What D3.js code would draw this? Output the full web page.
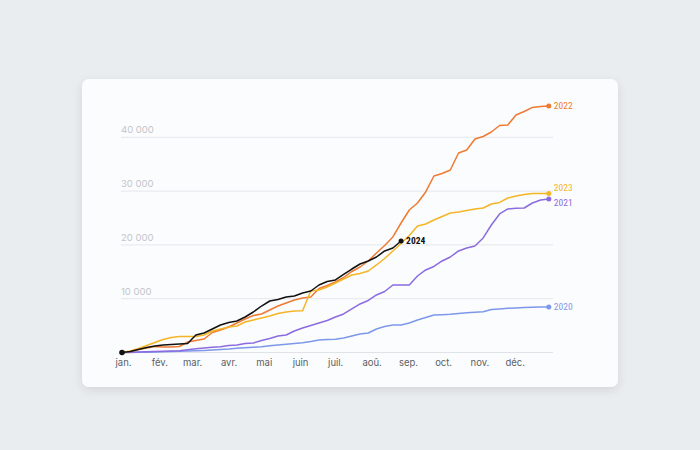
<!DOCTYPE html>
<html><head><meta charset="utf-8">
<script src="https://cdn.jsdelivr.net/npm/d3@7"></script>
<style>
html,body{margin:0;padding:0;background:#e9edf0;width:700px;height:450px;overflow:hidden;font-family:Inter,"Noto Sans",sans-serif;}
</style></head><body>
<svg id="chart" width="700" height="450"></svg>
<script>
const months = ["jan.","fév.","mar.","avr.","mai","juin","juil.","aoû.","sep.","oct.","nov.","déc."];
const monthStartDays = [0,31,59,90,120,151,181,212,243,273,304,334];
const yTicks = [10000,20000,30000,40000];
const years = ["2020","2021","2022","2023","2024"];
const colors = {"2020":"#7d98ea","2021":"#8a6ce0","2022":"#ef7a32","2023":"#f4b526","2024":"#111111"};

// weekly cumulative values (week 0 = 1 January)
const v2020 = [0,20,40,60,90,130,190,220,280,320,390,460,560,650,780,870,970,1080,1250,1390,1540,1670,1820,2040,2320,2420,2450,2700,3070,3440,3630,4370,4830,5110,5110,5480,6040,6510,6970,7030,7100,7250,7400,7490,7580,7990,8090,8220,8270,8350,8420,8460,8460];
const v2021 = [0,40,90,130,190,240,280,330,500,690,840,970,1080,1300,1390,1670,1770,2230,2600,3070,3250,4000,4550,5020,5480,5950,6600,7160,8090,9020,9670,10690,11340,12550,12550,12550,14220,15340,15990,17010,17750,18870,19430,19800,21290,23700,25750,26680,26810,26860,27790,28350,28540];
const v2022 = [0,190,560,840,1120,1020,1020,1120,1950,2230,2510,3720,4180,4740,5480,6230,6880,7160,7900,8640,9200,9760,10130,10320,11900,12460,13110,13940,15060,15890,17010,18500,19890,21470,24070,26490,27790,29840,32810,33280,33930,37090,37640,39690,40150,40990,42200,42290,44150,44800,45550,45730,45820];
const v2023 = [0,280,740,1300,1860,2420,2790,2970,2970,2970,3250,4000,4370,4740,4930,5670,6040,6410,6790,7250,7530,7710,7750,11430,11620,12180,12920,13660,14410,14690,15150,16270,17470,18870,20260,21750,23520,23890,24630,25280,25930,26120,26400,26680,26860,27610,27890,28720,29090,29370,29560,29560,29560];
const v2024 = [0,190,560,930,1210,1390,1490,1580,1670,3250,3630,4370,5110,5580,5860,6600,7530,8640,9570,9850,10320,10500,11060,11430,12550,13200,13480,14500,15520,16450,17010,17750,18870,19430,20730];
const seriesValues = {"2020":v2020,"2021":v2021,"2022":v2022,"2023":v2023,"2024":v2024};

const svg = d3.select("#chart");
const defs = svg.append("defs");
const f = defs.append("filter").attr("id","sh").attr("x","-10%").attr("y","-10%").attr("width","120%").attr("height","130%");
f.append("feDropShadow").attr("dx",0).attr("dy",3).attr("stdDeviation",5).attr("flood-color","#000").attr("flood-opacity",0.10);

svg.append("rect").attr("x",82).attr("y",79).attr("width",536).attr("height",308).attr("rx",7)
  .attr("fill","#fbfcfd").attr("filter","url(#sh)");

const x = d3.scaleLinear().domain([0,365]).range([122,550]);
const y = d3.scaleLinear().domain([0,40000]).range([352.5,137.3]);
const dayOfWeek = i => i*7;

// grid
const g = svg.append("g");
g.selectAll("line.grid").data(yTicks).join("line").attr("class","grid")
  .attr("x1",121).attr("x2",553).attr("y1",d=>y(d)).attr("y2",d=>y(d))
  .attr("stroke","#e4e7eb").attr("stroke-width",1);
g.selectAll("text.yt").data(yTicks).join("text").attr("class","yt")
  .attr("x",121).attr("y",d=>y(d)-4).attr("fill","#c2c5ca").attr("font-size",9.5)
  .attr("font-family","Inter, sans-serif").text(d=>d3.format(",")(d).replace(",","\u202f").replace(",", " ").replace("\u202f"," "));
g.append("line").attr("x1",121).attr("x2",553).attr("y1",y(0)).attr("y2",y(0)).attr("stroke","#dfe2e6");

// x axis labels
g.selectAll("text.mt").data(months).join("text").attr("class","mt")
  .attr("x",(d,i)=>x(monthStartDays[i])+1.5).attr("y",366).attr("text-anchor","middle")
  .attr("fill","#5b5f66").attr("font-size",9.5).attr("font-family","Inter, sans-serif").text(d=>d);

const line = d3.line().x((d,i)=>x(dayOfWeek(i))).y(d=>y(d));
years.forEach(yr=>{
  const vals = seriesValues[yr];
  svg.append("path").datum(vals).attr("d",line).attr("fill","none")
    .attr("stroke",colors[yr]).attr("stroke-width",1.5).attr("stroke-linejoin","round");
  const last = vals.length-1;
  svg.append("circle").attr("cx",x(dayOfWeek(last))).attr("cy",y(vals[last])).attr("r",2.5).attr("fill",colors[yr]);
});
svg.append("circle").attr("cx",x(0)).attr("cy",y(0)).attr("r",2.8).attr("fill","#111");

const labelOffsets = {"2020":0,"2021":4,"2022":0,"2023":-5,"2024":0};
years.forEach(yr=>{
  const vals = seriesValues[yr]; const last = vals.length-1;
  svg.append("text").attr("x",x(dayOfWeek(last))+5).attr("y",y(vals[last])+labelOffsets[yr]+3)
    .attr("fill",colors[yr]).attr("font-size",9.5)
    .attr("font-family","'Liberation Sans Narrow','Roboto Condensed',Roboto,sans-serif")
    .attr("font-weight", yr==="2024"?"bold":"normal").text(yr);
});
</script></body></html>
